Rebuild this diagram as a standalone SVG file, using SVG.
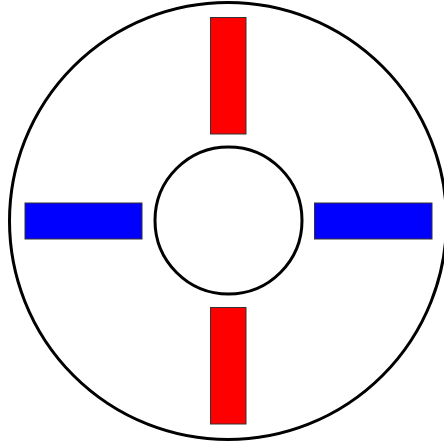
<svg xmlns="http://www.w3.org/2000/svg" width="444" height="445" viewBox="0 0 444 445">
<style>
.ring{fill:none;stroke:#000;stroke-width:3}
.red{fill:#ff0000;stroke:#333;stroke-width:1}
.blue{fill:#0000ff;stroke:#333;stroke-width:1}
</style>
<rect width="444" height="445" fill="#fff"/>
<g id="outer"><circle class="ring" cx="228" cy="221" r="218.5"/></g>
<g id="inner"><circle class="ring" cx="228.5" cy="220.5" r="73.5"/></g>
<g id="top"><rect class="red" x="210.5" y="17.5" width="35.5" height="116.5"/></g>
<g id="bottom"><rect class="red" x="210.5" y="307.5" width="35.5" height="116.5"/></g>
<g id="left"><rect class="blue" x="25" y="203" width="117" height="36"/></g>
<g id="right"><rect class="blue" x="314.5" y="203" width="117.5" height="36"/></g>
<g id="connectors"></g>
</svg>
